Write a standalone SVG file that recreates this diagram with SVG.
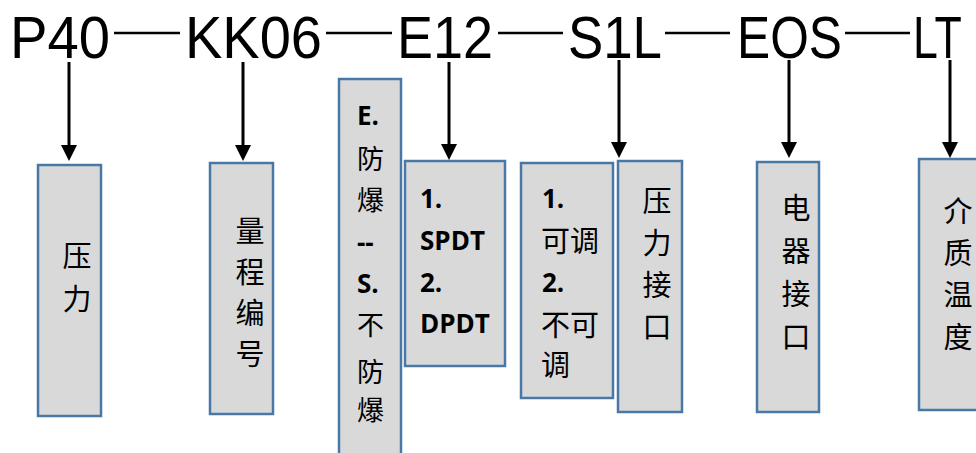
<svg xmlns="http://www.w3.org/2000/svg" width="976" height="453" viewBox="0 0 976 453">
<defs>
<style>
.code{font-family:"Liberation Sans","Open Sans",sans-serif;font-size:60px;fill:#000}
.box{fill:#d9d9d9;stroke:#4a78a6;stroke-width:2.5}
.cn{font-family:"Noto Sans CJK SC",sans-serif;font-size:29px;fill:#000;text-anchor:middle}
.lb{font-family:"Open Sans","Liberation Sans","Noto Sans CJK SC",sans-serif;font-weight:bold;font-size:26px;fill:#000}
.lc{font-family:"Noto Sans CJK SC",sans-serif;font-size:27px;fill:#000}
.lc2{font-family:"Noto Sans CJK SC",sans-serif;font-size:29px;fill:#000}
.conn line{stroke:#000;stroke-width:3}
.dash line{stroke:#000;stroke-width:2.5}
</style>
<marker id="ah" markerUnits="userSpaceOnUse" markerWidth="16" markerHeight="16" refX="12" refY="8" orient="auto">
<path d="M0,0 L16,8 L0,16 z" fill="#000"/>
</marker>
</defs>
<rect width="976" height="453" fill="#fff"/>
<g id="code">
<text class="code" x="10" y="58" textLength="100" lengthAdjust="spacingAndGlyphs">P40</text>
<text class="code" x="185" y="58" textLength="137" lengthAdjust="spacingAndGlyphs">KK06</text>
<text class="code" x="397" y="58" textLength="96" lengthAdjust="spacingAndGlyphs">E12</text>
<text class="code" x="568" y="58" textLength="94" lengthAdjust="spacingAndGlyphs">S1L</text>
<text class="code" x="737" y="58" textLength="105" lengthAdjust="spacingAndGlyphs">EOS</text>
<text class="code" transform="translate(913,58) scale(0.745,1)">LT</text>
</g>
<g class="dash" id="dashes">
<line x1="114" y1="33" x2="180" y2="33"/>
<line x1="326" y1="33" x2="392" y2="33"/>
<line x1="498" y1="33" x2="563" y2="33"/>
<line x1="665" y1="33" x2="730" y2="33"/>
<line x1="845" y1="33" x2="910" y2="33"/>
</g>
<g id="n1"><rect class="box" x="38" y="165" width="63" height="251"/>
<text class="cn" x="77" y="267">压</text><text class="cn" x="77" y="310">力</text></g>
<g id="n2"><rect class="box" x="210" y="163" width="63" height="251"/>
<text class="cn" x="250" y="242">量</text><text class="cn" x="250" y="283">程</text><text class="cn" x="250" y="324">编</text><text class="cn" x="250" y="365">号</text></g>
<g id="n3"><rect class="box" x="339" y="79" width="62" height="385"/>
<text class="lb" x="357" y="125">E.</text>
<text class="lc" x="357" y="169">防</text>
<text class="lc" x="357" y="210">爆</text>
<text class="lb" x="357" y="252">--</text>
<text class="lb" x="357" y="293">S.</text>
<text class="lc" x="357" y="335">不</text>
<text class="lc" x="357" y="382">防</text>
<text class="lc" x="357" y="420">爆</text></g>
<g id="n4"><rect class="box" x="405" y="161" width="100" height="205"/>
<text class="lb" x="420" y="208">1.</text>
<text class="lb" x="420" y="250">SPDT</text>
<text class="lb" x="420" y="292">2.</text>
<text class="lb" x="420" y="333">DPDT</text></g>
<g id="n5"><rect class="box" x="521" y="163" width="92" height="235"/>
<text class="lb" x="542" y="208">1.</text>
<text class="lc2" x="541" y="252">可调</text>
<text class="lb" x="542" y="292">2.</text>
<text class="lc2" x="541" y="336">不可</text>
<text class="lc2" x="541" y="376">调</text></g>
<g id="n6"><rect class="box" x="618" y="161" width="64" height="251"/>
<text class="cn" x="657" y="212">压</text><text class="cn" x="657" y="254">力</text><text class="cn" x="657" y="296">接</text><text class="cn" x="657" y="338">口</text></g>
<g id="n7"><rect class="box" x="757" y="162" width="62" height="250"/>
<text class="cn" x="796" y="219">电</text><text class="cn" x="796" y="262">器</text><text class="cn" x="796" y="305">接</text><text class="cn" x="796" y="348">口</text></g>
<g id="n8"><rect class="box" x="919" y="159" width="70" height="251"/>
<text class="cn" x="958" y="222">介</text><text class="cn" x="958" y="264">质</text><text class="cn" x="958" y="306">温</text><text class="cn" x="958" y="348">度</text></g>
<g class="conn" id="connectors">
<line x1="69" y1="62" x2="69" y2="157" marker-end="url(#ah)"/>
<line x1="243" y1="62" x2="243" y2="157" marker-end="url(#ah)"/>
<line x1="449" y1="62" x2="449" y2="156" marker-end="url(#ah)"/>
<line x1="619" y1="60" x2="619" y2="154" marker-end="url(#ah)"/>
<line x1="789" y1="60" x2="789" y2="154" marker-end="url(#ah)"/>
<line x1="950" y1="60" x2="950" y2="154" marker-end="url(#ah)"/>
</g>
</svg>
